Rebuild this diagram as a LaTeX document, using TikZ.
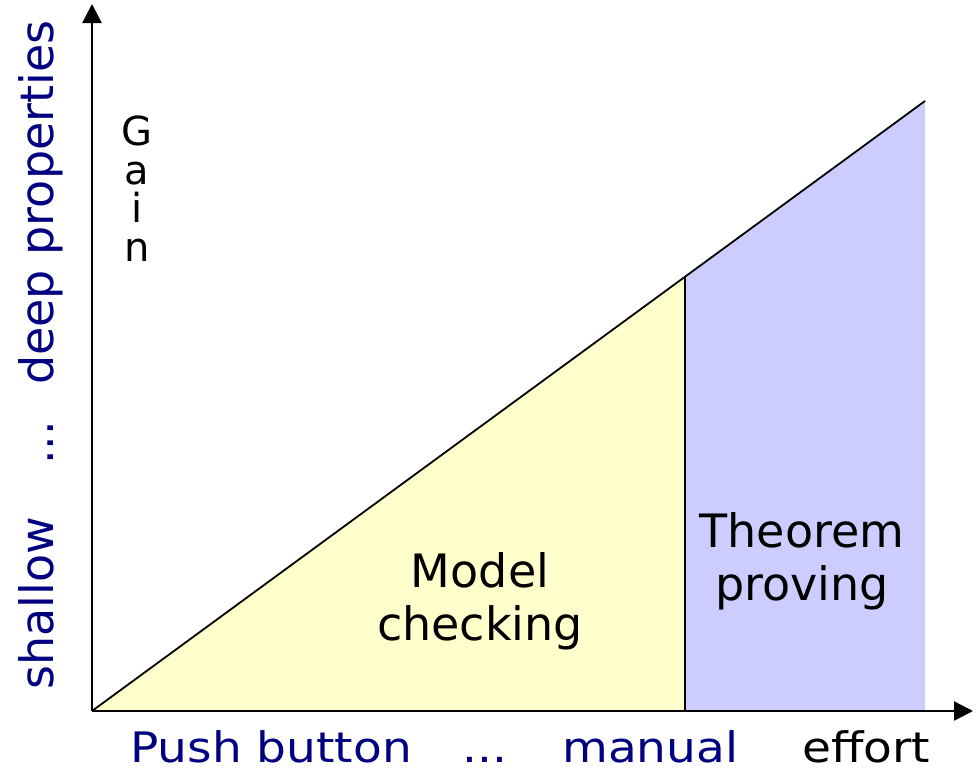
\documentclass[tikz,border=0pt]{standalone}
\usepackage{fontspec}
\setmainfont{DejaVu Sans}
\usetikzlibrary{arrows.meta}
\definecolor{mcyellow}{HTML}{FFFFCC}
\definecolor{tpblue}{HTML}{CCCCFF}
\definecolor{navyblue}{HTML}{000080}
\begin{document}
\begin{tikzpicture}[x=1pt,y=-1pt,
  axisline/.style={line width=2.4pt,-{Triangle[length=19pt,width=19pt]}},
  edgeline/.style={line width=2.2pt},
  diagline/.style={line width=1.8pt},
  biglbl/.style={font=\fontsize{46}{53}\selectfont, inner sep=0pt},
  gainlbl/.style={font=\fontsize{40}{38.5}\selectfont, inner sep=0pt, align=center},
  bottomlbl/.style={font=\fontsize{42}{50}\selectfont, inner sep=0pt, anchor=base west},
  sidelbl/.style={font=\fontsize{46}{53}\selectfont, inner sep=0pt, rotate=90, text=navyblue}]
\useasboundingbox (0,0) rectangle (978,771);
% key points
\coordinate (O) at (92,711);
\coordinate (XE) at (973,711);
\coordinate (YE) at (92,4);
\coordinate (D) at (925,101);
\coordinate (M) at (685,277);
\coordinate (MB) at (685,711);
\coordinate (DB) at (925,711);
% regions
\fill[mcyellow] (O) -- (M) -- (MB) -- cycle;
\fill[tpblue] (MB) -- (M) -- (D) -- (DB) -- cycle;
% axes
\draw[axisline] (O) -- (YE);
\draw[axisline] (O) -- (XE);
% diagonal and divider
\draw[diagline] (O) -- (D);
\draw[edgeline] (MB) -- (M);
% labels
\node[gainlbl, anchor=north] (gain) at (137,116) {G\\a\\i\\n};
\node[biglbl, align=center, anchor=north] (mc) at (480,552) {Model\\checking};
\node[biglbl, align=center, anchor=north] (tp) at (802,512) {Theorem\\proving};
\node[bottomlbl, text=navyblue] (push) at (130,762) {\scalebox{1.12}[1]{Push button}};
\node[bottomlbl, text=navyblue, anchor=base] (bdots) at (485,762) {\scalebox{1.12}[1]{...}};
\node[bottomlbl, text=navyblue] (manual) at (562,762) {\scalebox{1.12}[1]{manual}};
\node[bottomlbl] (effort) at (802,762) {\scalebox{1.12}[1]{effort}};
\node[sidelbl, anchor=base west] (shallow) at (53,690) {shallow};
\node[sidelbl, anchor=base] (sdots) at (53,443) {...};
\node[sidelbl, anchor=base west] (deep) at (53,385) {deep properties};
\end{tikzpicture}
\end{document}
